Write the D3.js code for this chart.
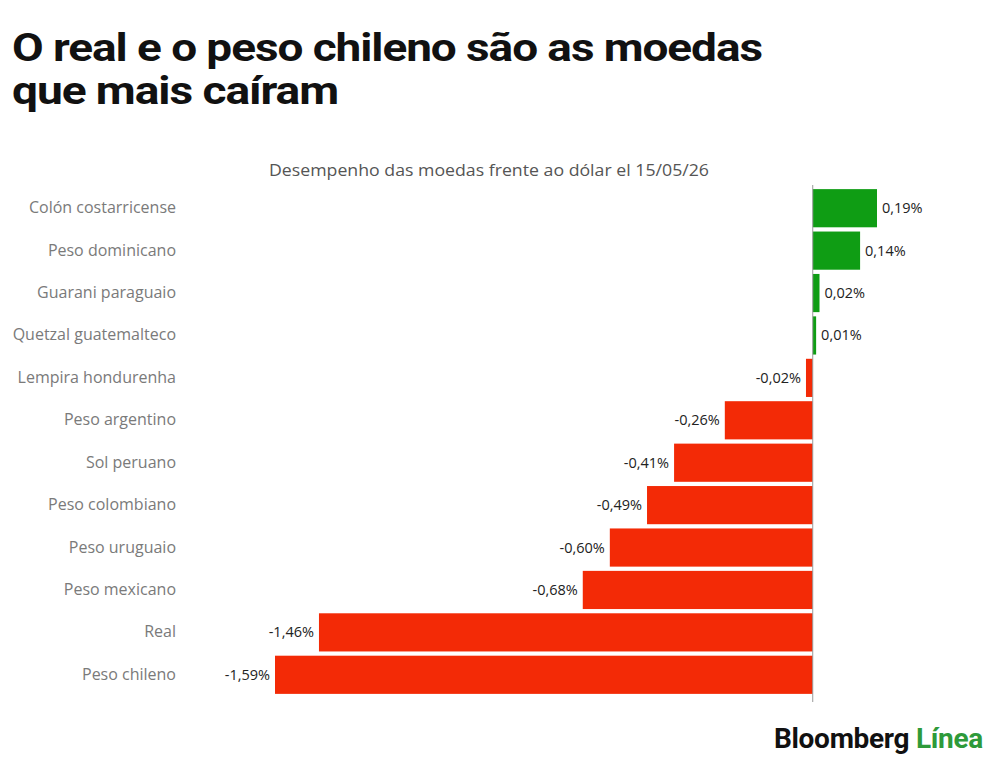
<!DOCTYPE html>
<html><head><meta charset="utf-8">
<script src="https://cdn.jsdelivr.net/npm/d3@7"></script>
<style>body{margin:0;background:#fff;font-family:Roboto,sans-serif}</style>
</head><body><div id="chart"></div>
<script>
var categories = ["Colón costarricense","Peso dominicano","Guarani paraguaio","Quetzal guatemalteco","Lempira hondurenha","Peso argentino","Sol peruano","Peso colombiano","Peso uruguaio","Peso mexicano","Real","Peso chileno"];
var values = [0.19,0.14,0.02,0.01,-0.02,-0.26,-0.41,-0.49,-0.60,-0.68,-1.46,-1.59];

var width = 1000, height = 757;
var svg = d3.select("#chart").append("svg").attr("width", width).attr("height", height);

svg.append("text").attr("x", 12).attr("y", 61).attr("font-size", "39px").attr("font-weight", "bold")
  .attr("letter-spacing", "-0.9px").attr("fill", "#111")
  .attr("textLength", 750).attr("lengthAdjust", "spacingAndGlyphs")
  .text("O real e o peso chileno são as moedas");
svg.append("text").attr("x", 12).attr("y", 104).attr("font-size", "39px").attr("font-weight", "bold")
  .attr("letter-spacing", "-0.9px").attr("fill", "#111")
  .attr("textLength", 326).attr("lengthAdjust", "spacingAndGlyphs")
  .text("que mais caíram");

svg.append("text").attr("x", 489).attr("y", 176).attr("text-anchor", "middle")
  .attr("font-family", "'Open Sans'").attr("font-size", "16px").attr("fill", "#555")
  .attr("textLength", 440).attr("lengthAdjust", "spacingAndGlyphs")
  .text("Desempenho das moedas frente ao dólar el 15/05/26");

var x = d3.scaleLinear().domain([-1.59, 0.19]).range([275, 877]);
var y = d3.scaleBand().domain(categories).range([187, 696]).paddingInner(0.1).paddingOuter(0.05);

svg.selectAll("rect.bar").data(values).enter().append("rect")
  .attr("x", function(d){ return x(Math.min(0, d)); })
  .attr("y", function(d, i){ return y(categories[i]); })
  .attr("width", function(d){ return Math.abs(x(d) - x(0)); })
  .attr("height", y.bandwidth())
  .attr("fill", function(d){ return d >= 0 ? "#0f9d14" : "#f32a06"; });

svg.append("line").attr("x1", x(0)).attr("x2", x(0)).attr("y1", 185).attr("y2", 702)
  .attr("stroke", "#999").attr("stroke-width", 1);

svg.selectAll("text.cat").data(categories).enter().append("text")
  .attr("x", 176).attr("y", function(d){ return y(d) + y.bandwidth()/2 + 5; })
  .attr("text-anchor", "end").attr("font-family", "'Open Sans'").attr("font-size", "16px")
  .attr("fill", "#7a7a7a").text(function(d){ return d; });

svg.selectAll("text.val").data(values).enter().append("text")
  .attr("x", function(d){ return d >= 0 ? x(d) + 5 : x(d) - 5; })
  .attr("y", function(d, i){ return y(categories[i]) + y.bandwidth()/2 + 5; })
  .attr("text-anchor", function(d){ return d >= 0 ? "start" : "end"; })
  .attr("font-family", "'Open Sans'").attr("font-size", "14.5px").attr("fill", "#222")
  .text(function(d){ return d3.format(".2f")(d).replace(".", ",").replace("−", "-") + "%"; });

var logo = svg.append("text").attr("x", 983).attr("y", 748).attr("text-anchor", "end")
  .attr("font-size", "28px").attr("font-weight", "bold").attr("letter-spacing", "-0.3px");
logo.append("tspan").attr("fill", "#111").text("Bloomberg ");
logo.append("tspan").attr("fill", "#2e9a3a").text("Línea");
</script></body></html>
